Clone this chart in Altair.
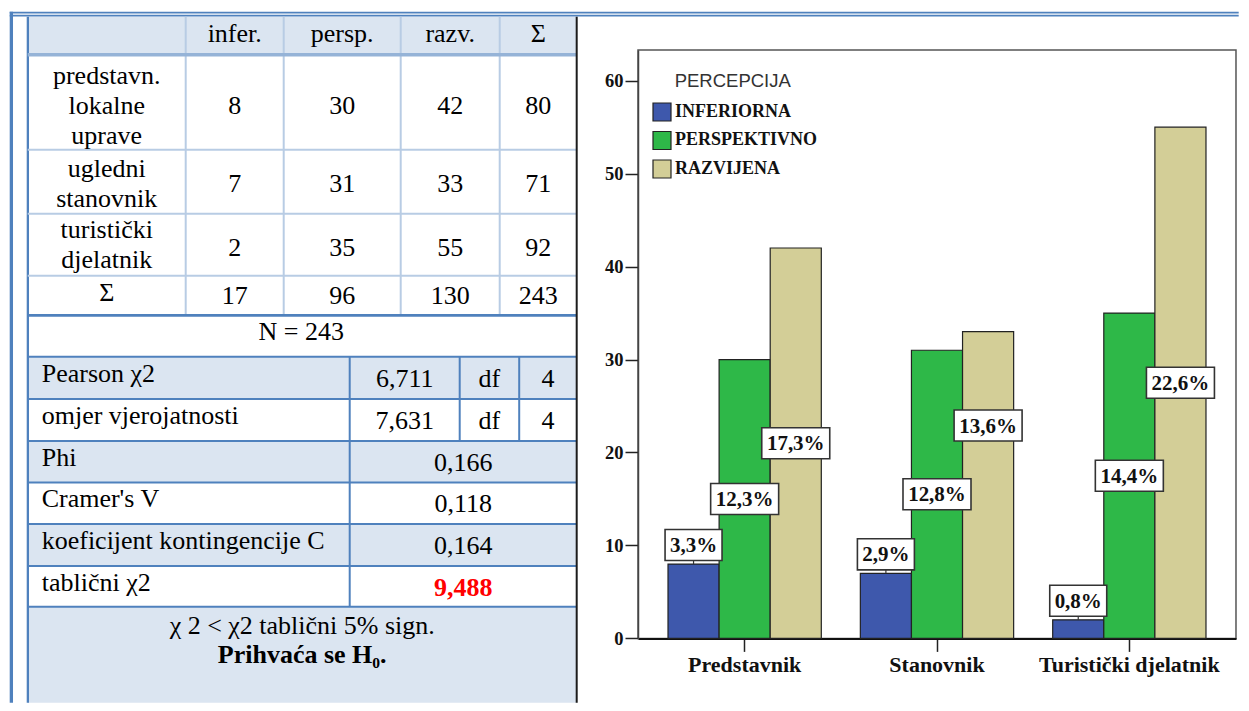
import altair as alt
import pandas as pd

# ---------------- data ----------------
categories = ["Predstavnik", "Stanovnik", "Turistički djelatnik"]
series = ["INFERIORNA", "PERSPEKTIVNO", "RAZVIJENA"]
inferiorna = [8, 7, 2]
perspektivno = [30, 31, 35]
razvijena = [42, 33, 55]
pct_inferiorna = ["3,3%", "2,9%", "0,8%"]
pct_perspektivno = ["12,3%", "12,8%", "14,4%"]
pct_razvijena = ["17,3%", "13,6%", "22,6%"]
y_ticks = [0, 10, 20, 30, 40, 50, 60]
legend_title = "PERCEPCIJA"
bar_colors = ["#3E58AC", "#2EB848", "#D3CE97"]

table_header = ["infer.", "persp.", "razv.", "Σ"]
table_rows = ["predstavn.\nlokalne\nuprave", "ugledni\nstanovnik", "turistički\ndjelatnik"]
sum_label = "Σ"
n_label = "N = 243"
stat_labels = ["Pearson χ2", "omjer vjerojatnosti", "Phi", "Cramer's V",
               "koeficijent kontingencije C", "tablični χ2"]
stat_values = ["6,711", "7,631", "0,166", "0,118", "0,164", "9,488"]
df_label = "df"
df_values = [4, 4]
conclusion_1 = "χ 2 < χ2 tablični 5% sign."
conclusion_2 = "Prihvaća se H₀."

SERIF = "Liberation Serif, Times New Roman, Tinos, DejaVu Serif, serif"
SANS = "Liberation Sans, Arial, Helvetica, sans-serif"

# ---------------- layout (page pixel coordinates) ----------------
PX0, PY0 = 637.3, 49.3          # plot-area origin on the page
PW, PH = 598, 588.4             # plot-area size
BLUE = "#4F81BD"
LIGHT = "#DBE5F1"
GRID = "#B8CCE4"
TFS = 26                         # table font size

UX = [27, 185, 283, 400, 499, 576]           # upper table column edges
UXc = [(UX[i] + UX[i + 1]) / 2 for i in range(5)]
BOTTOM = 702
LY = [314.5, 356, 398.3, 440.3, 481.7, 523.3, 565.3, 606, BOTTOM]  # lower rows

rects = []
def R(x1, x2, y1, y2, c):
    rects.append({"x1": x1, "x2": x2, "y1": y1, "y2": y2, "c": c})

# fills
R(27, 576, 16, 54, LIGHT)
for i in range(1, 8):
    R(27, 576, LY[i], LY[i + 1], LIGHT if i % 2 == 1 else "#FFFFFF")
# lines
R(9, 1238, 11, 12.7, BLUE)
R(9, 1238, 14, 15.7, BLUE)
R(9, 12.3, 11, BOTTOM, BLUE)
R(26, 28.3, 16, BOTTOM, BLUE)
for xv in UX[1:5]:
    R(xv - 1, xv + 1, 16, 313.5, GRID)
for yv in [149, 213, 275]:
    R(27, 576, yv - 1, yv + 1, GRID)
R(27, 576, 52.3, 55.7, "#95B3D7")
R(27, 576, 313.3, 316, BLUE)
for yv in LY[1:8]:
    R(27, 576, yv - 1, yv + 1, BLUE)
R(348, 350, LY[1], LY[7], BLUE)
R(458, 460, LY[1], LY[3], BLUE)
R(517.5, 519.5, LY[1], LY[3], BLUE)
R(575, 577, 16, BOTTOM, "#1c1c1c")
rects_df = pd.DataFrame(rects)

sx = alt.Scale(domain=[0, 1249], range=[-PX0, 1249 - PX0], nice=False, zero=False)
sy = alt.Scale(domain=[0, 711], range=[-PY0, 711 - PY0], nice=False, zero=False)

def tx(df, **mk):
    props = dict(font=SERIF, fontSize=TFS, color="#000000", baseline="alphabetic",
                 align="center", lineBreak="\n", lineHeight=30)
    props.update(mk)
    return alt.Chart(df).mark_text(**props).encode(
        x=alt.X("x:Q", scale=sx, axis=None),
        y=alt.Y("y:Q", scale=sy, axis=None),
        text="t:N")

# upper table texts
counts = list(zip(inferiorna, perspektivno, razvijena))
row_base = [113.3, 191.7, 255, 303.3]
label_base = [83.3, 176, 237.3, 300]
cells = []
for j, h in enumerate(table_header):
    cells.append({"x": UXc[j + 1], "y": 41.7, "t": h})
for i, row in enumerate(counts):
    vals = list(row) + [sum(row)]
    for j, v in enumerate(vals):
        cells.append({"x": UXc[j + 1], "y": row_base[i], "t": str(v)})
col_sums = [sum(inferiorna), sum(perspektivno), sum(razvijena)]
for j, v in enumerate(col_sums + [sum(col_sums)]):
    cells.append({"x": UXc[j + 1], "y": row_base[3], "t": str(v)})
rowlab = [{"x": UXc[0], "y": label_base[i], "t": t} for i, t in enumerate(table_rows)]
rowlab.append({"x": UXc[0], "y": label_base[3], "t": sum_label})

# lower table texts
centre = (27 + 576) / 2
lower_c = [{"x": centre - 1, "y": 339.3, "t": n_label}]
stat_l = [{"x": 41, "y": LY[i + 1] + 25, "t": t} for i, t in enumerate(stat_labels)]
stat_v = []
for i, v in enumerate(stat_values[:5]):
    xv = (349 + 459) / 2 if i < 2 else (349 + 576) / 2
    stat_v.append({"x": xv, "y": LY[i + 1] + 30, "t": v})
for i, d in enumerate(df_values):
    stat_v.append({"x": (459 + 518.5) / 2, "y": LY[i + 1] + 30, "t": df_label})
    stat_v.append({"x": (518.5 + 576) / 2, "y": LY[i + 1] + 30, "t": str(d)})
red_v = [{"x": (349 + 576) / 2, "y": LY[6] + 30, "t": stat_values[5]}]
concl1 = [{"x": centre, "y": 633.3, "t": conclusion_1}]
concl2 = [{"x": centre, "y": 662.7, "t": conclusion_2}]

table = alt.layer(
    alt.Chart(rects_df).mark_rect(strokeWidth=0).encode(
        x=alt.X("x1:Q", scale=sx, axis=None), x2="x2:Q",
        y=alt.Y("y1:Q", scale=sy, axis=None), y2="y2:Q",
        fill=alt.Fill("c:N", scale=None)),
    tx(pd.DataFrame(cells)),
    tx(pd.DataFrame(rowlab)),
    tx(pd.DataFrame(lower_c)),
    tx(pd.DataFrame(stat_l), align="left"),
    tx(pd.DataFrame(stat_v)),
    tx(pd.DataFrame(red_v), color="#FF0000", fontWeight="bold"),
    tx(pd.DataFrame(concl1)),
    tx(pd.DataFrame(concl2), fontWeight="bold"),
)

# ---------------- bar chart ----------------
BOX_UNITS = 3.4      # label box height in data units (collision test)
SHIFT_UNITS = 7.4    # how far an overlapping label is pushed up
recs = []
for s, vals, pcts in zip(series, [inferiorna, perspektivno, razvijena],
                         [pct_inferiorna, pct_perspektivno, pct_razvijena]):
    for k, (c, v, p) in enumerate(zip(categories, vals, pcts)):
        ylab = v / 2
        if s == series[2]:
            g = perspektivno[k] / 2
            if abs(ylab - g) < BOX_UNITS:
                ylab = g + SHIFT_UNITS
        recs.append({"cat": c, "ser": s, "count": v, "pct": p, "ylab": ylab})
bdf = pd.DataFrame(recs)

x_scale = alt.Scale(domain=categories, paddingInner=0.203, paddingOuter=0.156)
y_scale = alt.Scale(domain=[0, 63.3], nice=False, zero=True)
xo = alt.XOffset("ser:N", sort=series,
                 scale=alt.Scale(domain=series, paddingInner=0, paddingOuter=0))

x_axis = alt.Axis(title=None, labelFont=SERIF, labelFontWeight="bold", labelFontSize=22,
                  labelColor="#111111", labelAngle=0, labelPadding=3, labelLimit=400,
                  tickSize=13, tickColor="#222222", tickWidth=1.5,
                  domainColor="#111111", domainWidth=2, grid=False)
y_axis = alt.Axis(title=None, values=y_ticks, format="d", labelFont=SERIF,
                  labelFontWeight="bold", labelFontSize=18.5, labelColor="#111111",
                  labelPadding=2, tickSize=13, tickColor="#222222", tickWidth=1.5,
                  domainColor="#444444", domainWidth=1.5, grid=False)

X = alt.X("cat:N", sort=categories, scale=x_scale, axis=x_axis, title=None)
base = alt.Chart(bdf)

bars = base.mark_bar(stroke="#222222", strokeWidth=1.2).encode(
    x=X, xOffset=xo,
    y=alt.Y("count:Q", scale=y_scale, axis=y_axis, title=None),
    color=alt.Color("ser:N", sort=series,
                    scale=alt.Scale(domain=series, range=bar_colors),
                    legend=alt.Legend(title=None, orient="none", legendX=14, legendY=52,
                                      symbolType="square", symbolSize=324,
                                      symbolStrokeColor="#222222", symbolStrokeWidth=1.2,
                                      labelFont=SERIF, labelFontWeight="bold",
                                      labelFontSize=18, labelColor="#111111",
                                      labelOffset=3, rowPadding=4.5, padding=0,
                                      symbolOffset=0, labelLimit=300)),
)

p5 = "M-1,-0.4559L1,-0.4559L1,0.4559L-1,0.4559Z"
p4 = "M-0.838,-0.4559L0.838,-0.4559L0.838,0.4559L-0.838,0.4559Z"
shape = alt.Shape("nch:O", scale=alt.Scale(domain=[4, 5], range=[p4, p5]), legend=None)

low = base.transform_filter(alt.datum.ser == series[0]).transform_calculate(
    nch="length(datum.pct)")
high = base.transform_filter(alt.datum.ser != series[0]).transform_calculate(
    nch="length(datum.pct)")

OFF = -19
leaders = low.mark_rule(color="#333333", strokeWidth=1.2, y2Offset=-4).encode(
    x=X, xOffset=xo, y=alt.Y("count:Q", scale=y_scale, title=None), y2="count:Q")
box_kw = dict(filled=True, fill="white", stroke="#333333", strokeWidth=1.6,
              opacity=1, size=4624)
low_box = low.mark_point(yOffset=OFF, **box_kw).encode(
    x=X, xOffset=xo, y=alt.Y("count:Q", scale=y_scale, title=None), shape=shape)
high_box = high.mark_point(**box_kw).encode(
    x=X, xOffset=xo, y=alt.Y("ylab:Q", scale=y_scale, title=None), shape=shape)
txt_kw = dict(font=SERIF, fontWeight="bold", fontSize=21, color="#111111",
              baseline="middle", dy=1)
low_txt = low.mark_text(yOffset=OFF, **txt_kw).encode(
    x=X, xOffset=xo, y=alt.Y("count:Q", scale=y_scale, title=None), text="pct:N")
high_txt = high.mark_text(**txt_kw).encode(
    x=X, xOffset=xo, y=alt.Y("ylab:Q", scale=y_scale, title=None), text="pct:N")

leg_title = alt.Chart(pd.DataFrame({"t": [legend_title]})).mark_text(
    font=SANS, fontSize=18.5, color="#333333", align="left", baseline="alphabetic"
).encode(x=alt.value(674 - PX0), y=alt.value(86.7 - PY0), text="t:N")

barchart = alt.layer(bars, leaders, low_box, high_box, low_txt, high_txt, leg_title)

chart = alt.layer(table, barchart).resolve_scale(
    x="independent", y="independent"
).properties(
    width=PW, height=PH, padding={"left": 1, "top": 3, "right": 0, "bottom": 0},
    background="white"
).configure_view(stroke="#555555", strokeWidth=1.5)

chart.save("out.html", embed_options={"renderer": "svg", "actions": False})
